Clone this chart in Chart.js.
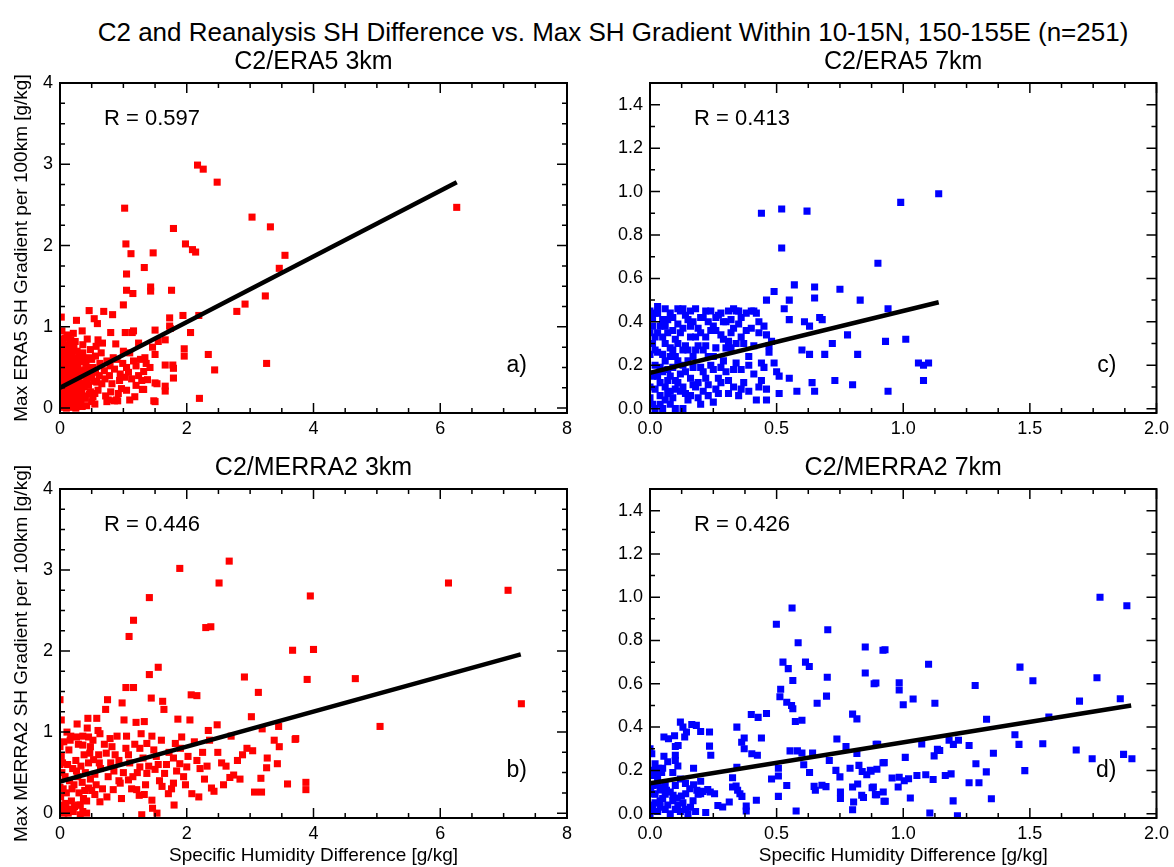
<!DOCTYPE html>
<html>
<head>
<meta charset="utf-8">
<script src="https://cdn.jsdelivr.net/npm/chart.js@4.4.1/dist/chart.umd.min.js"></script>
<style>
body { margin: 0; background: #fff; }
#wrap { position: relative; width: 1174px; height: 867px; overflow: hidden; font-family: "Liberation Sans", Arial, sans-serif; }
#title { position: absolute; left: 613px; top: 16px; transform: translateX(-50%); font-size: 26px; line-height: 32px; color: #000; white-space: nowrap; }
canvas { position: absolute; }
</style>
</head>
<body>
<div id="wrap">
  <div id="title">C2 and Reanalysis SH Difference vs. Max SH Gradient Within 10-15N, 150-155E (n=251)</div>
  <canvas id="chartA" width="590" height="410" style="left:0;top:40px"></canvas>
  <canvas id="chartC" width="584" height="410" style="left:590px;top:40px"></canvas>
  <canvas id="chartB" width="590" height="419" style="left:0;top:448px"></canvas>
  <canvas id="chartD" width="584" height="419" style="left:590px;top:448px"></canvas>
</div>
<script>
// tick labels
var ticksX8 = [0, 2, 4, 6, 8];
var ticksY4 = [0, 1, 2, 3, 4];
var ticksX2 = [0, 0.5, 1.0, 1.5, 2.0];
var ticksY14 = [0, 0.2, 0.4, 0.6, 0.8, 1.0, 1.2, 1.4];

// R values of the fits
var rValues = ['0.597', '0.446', '0.413', '0.426'];

// regression lines, [x, y] ends
var fitA = [[0, 0.25], [6.26, 2.78]];
var fitB = [[0, 0.39], [7.27, 1.96]];
var fitC = [[0, 0.165], [1.14, 0.49]];
var fitD = [[0, 0.14], [1.90, 0.50]];

// C2/ERA5 3km
var ptsA = [[2.17,2.99],[2.26,2.94],[2.48,2.78],[1.02,2.46],[1.79,2.21],[1.04,2.02],[1.12,1.90],[1.47,1.91],[1.98,2.02],[2.09,1.95],
[2.14,1.92],[1.05,1.65],[1.33,1.73],[1.05,1.45],[1.15,1.41],[1.43,1.49],[1.43,1.44],[1.76,1.45],[3.03,2.35],[3.32,2.23],
[3.55,1.88],[3.46,1.72],[3.24,1.38],[2.92,1.28],[2.79,1.19],[3.26,0.55],[2.34,0.66],[2.44,0.47],[2.20,0.12],[1.00,1.27],
[1.94,1.14],[2.19,1.14],[2.06,0.93],[1.96,0.73],[1.96,0.64],[1.73,1.11],[1.73,1.01],[1.50,0.96],[1.16,0.95],[1.03,0.93],
[0.83,1.15],[0.69,1.19],[0.46,1.20],[0.54,1.10],[0.59,1.04],[0.26,1.08],[0.02,1.12],[1.50,0.08],[0.74,0.08],[0.86,0.09],
[0.91,0.09],[1.30,0.23],[1.66,0.21],[1.79,0.37],[1.53,0.30],[1.66,0.53],[1.78,0.53],[1.46,0.75],[1.55,0.82],[6.26,2.47],
[0.35,0.95],[0.13,0.90],[0.80,0.93],[1.14,0.93],[1.74,0.98],[0.24,0.82],[0.60,0.84],[0.88,0.79],[1.24,0.80],[1.66,0.84],
[1.50,0.31],[1.66,0.27],[1.79,0.49],[1.32,0.23],[1.18,0.14],[1.48,0.09],[0.76,0.10],[0.89,0.10],[0.55,0.05],[0.42,0.03],
[1.32,0.45],[1.34,0.62],[1.50,0.66],[1.16,0.58],[1.05,0.50],[0.95,0.42],[0.79,0.52],[0.71,0.36],[0.58,0.32],[0.45,0.28],
[0.60,0.22],[0.97,0.24],[1.13,0.36],[1.29,0.34],[1.05,0.22],
[0.01,0.02],[0.03,0.05],[0.05,0.01],[0.08,0.03],[0.10,0.00],[0.12,0.04],[0.02,0.10],[0.06,0.12],[0.09,0.08],[0.14,0.10],
[0.17,0.06],[0.20,0.02],[0.23,0.08],[0.26,0.04],[0.30,0.10],[0.33,0.05],[0.01,0.18],[0.04,0.22],[0.07,0.17],[0.11,0.20],
[0.15,0.16],[0.19,0.21],[0.22,0.15],[0.27,0.18],[0.31,0.22],[0.36,0.15],[0.40,0.12],[0.02,0.28],[0.05,0.33],[0.09,0.30],
[0.13,0.26],[0.16,0.32],[0.20,0.29],[0.24,0.34],[0.28,0.27],[0.33,0.31],[0.38,0.26],[0.42,0.35],[0.48,0.20],[0.52,0.14],
[0.01,0.40],[0.04,0.45],[0.08,0.38],[0.12,0.43],[0.16,0.48],[0.21,0.40],[0.25,0.45],[0.29,0.38],[0.34,0.42],[0.39,0.47],
[0.44,0.41],[0.50,0.38],[0.03,0.53],[0.07,0.58],[0.11,0.51],[0.15,0.60],[0.19,0.55],[0.23,0.62],[0.28,0.52],[0.32,0.57],
[0.37,0.60],[0.02,0.65],[0.06,0.70],[0.10,0.66],[0.14,0.73],[0.18,0.68],[0.22,0.76],[0.27,0.70],[0.04,0.80],[0.08,0.86],
[0.12,0.78],[0.17,0.84],[0.21,0.92],[0.03,0.95],[0.30,0.64],[0.41,0.55],[0.46,0.62],[0.52,0.50],[0.56,0.44],[0.62,0.40],
[0.66,0.30],[0.70,0.46],[0.74,0.58],[0.78,0.40],[0.82,0.30],[0.86,0.48],[0.90,0.60],[0.94,0.34],[0.99,0.55],[1.02,0.38],
[1.08,0.44],[1.10,0.68],[1.20,0.52],[1.24,0.40],[1.27,0.60],[1.36,0.55],[1.38,0.35],[1.42,0.50],[0.65,0.68],[0.72,0.15],
[0.55,0.18],[0.63,0.55],[0.84,0.62],[0.92,0.18],[1.00,0.70],[0.48,0.72],[0.36,0.78],[0.43,0.85],[0.57,0.76],[0.67,0.80],
[0.25,0.00],[0.15,0.01],[0.35,0.02],[0.06,0.25],[0.00,0.35],[0.00,0.60],[0.00,0.85],[0.00,0.10],[1.20,0.28],[0.80,0.20],
[0.50,0.08],[1.10,0.10],
[0.02,0.03],[0.04,0.14],[0.06,0.07],[0.08,0.21],[0.10,0.16],[0.12,0.30],[0.14,0.37],[0.16,0.24],[0.18,0.12],[0.20,0.46],
[0.22,0.53],[0.24,0.21],[0.26,0.58],[0.28,0.09],[0.30,0.35],[0.32,0.46],[0.34,0.20],[0.36,0.68],[0.38,0.40],[0.40,0.30],
[0.44,0.50],[0.46,0.17],[0.50,0.60],[0.53,0.33],[0.56,0.64],[0.01,0.50],[0.03,0.72],[0.05,0.62],[0.07,0.48],[0.09,0.56],
[0.11,0.89],[0.13,0.65],[0.16,0.78],[0.19,0.72],[0.06,0.40],[0.14,0.50]];

// C2/MERRA2 3km
var ptsB = [[2.67,3.11],[1.89,3.02],[2.51,2.84],[1.41,2.66],[1.16,2.38],[1.09,2.18],[2.30,2.29],[2.38,2.30],[1.55,1.80],[1.41,1.71],
[1.04,1.55],[1.16,1.55],[1.44,1.42],[2.07,1.46],[2.16,1.45],[2.91,1.68],[3.13,1.49],[3.67,2.01],[3.02,1.19],[1.62,1.38],
[1.64,1.28],[0.75,1.40],[0.72,1.28],[0.98,1.36],[0.00,1.40],[0.02,1.15],[0.44,1.17],[0.58,1.17],[1.01,1.15],[1.20,1.12],
[1.33,1.13],[1.86,1.16],[2.05,1.15],[2.34,1.02],[2.48,1.09],[3.19,1.04],[3.45,1.07],[3.72,0.92],[3.38,0.90],[3.46,0.82],
[2.95,0.80],[3.04,0.77],[3.27,0.68],[3.43,0.61],[3.26,0.56],[3.17,0.43],[3.07,0.26],[3.18,0.26],[3.59,0.36],[2.68,0.44],
[2.74,0.47],[2.84,0.42],[2.49,0.75],[2.39,0.31],[2.43,0.27],[2.19,0.20],[2.08,0.24],
[6.13,2.84],[7.07,2.75],[3.95,2.68],[4.00,2.02],[3.90,1.65],[4.66,1.66],[7.28,1.35],[5.05,1.07],[3.71,0.91],[3.88,0.38],[3.88,0.29],
[0.00,0.82],[0.16,0.90],[0.26,0.94],[0.36,0.84],[0.45,0.94],[0.48,0.82],[0.63,0.98],[0.79,0.92],[0.82,0.82],[0.73,0.74],
[0.61,0.72],[0.53,0.66],[0.87,0.72],[1.04,0.80],[1.08,0.72],[1.26,0.80],[1.37,0.86],[1.48,0.78],[1.26,0.57],[1.37,0.49],
[1.50,0.54],[1.65,0.49],[1.79,0.68],[1.89,0.61],[2.00,0.57],[2.16,0.65],[2.21,0.55],[2.32,0.58],[1.82,0.86],[1.92,0.94],
[1.08,0.41],[1.21,0.29],[1.33,0.23],[1.45,0.16],[1.46,0.06],[1.53,0.00],[1.29,-0.02],[1.71,0.24],[1.79,0.37],[1.95,0.45],
[1.61,0.33],[0.95,0.37],[0.84,0.29],[0.74,0.20],[0.63,0.14],[0.55,0.23],[0.45,0.31],[0.37,0.18],[0.29,0.10],[0.21,0.02],
[0.13,0.00],[0.05,0.04],[0.32,-0.02],[0.42,0.00],
[0.03,0.50],[0.05,0.30],[0.08,0.45],[0.10,0.25],[0.12,0.60],[0.15,0.40],[0.18,0.15],[0.20,0.55],[0.22,0.35],[0.25,0.65],
[0.28,0.45],[0.30,0.25],[0.33,0.58],[0.35,0.38],[0.38,0.72],[0.40,0.50],[0.42,0.15],[0.45,0.62],[0.48,0.42],[0.50,0.28],
[0.02,0.70],[0.06,0.88],[0.09,0.12],[0.01,0.20],[0.04,0.62],[0.07,0.05],[0.14,0.78],[0.17,0.95],[0.19,0.30],[0.23,0.08],
[0.26,0.52],[0.29,0.85],[0.32,0.10],[0.36,0.95],[0.39,0.28],[0.43,1.05],[0.47,0.74],[0.52,0.90],[0.55,0.48],[0.57,0.35],
[0.60,1.02],[0.64,0.55],[0.67,0.30],[0.70,0.85],[0.76,0.45],[0.80,0.62],[0.85,0.52],[0.90,0.95],[0.93,0.65],[0.97,0.18],
[1.00,0.50],[1.05,0.95],[1.10,0.62],[1.13,0.30],[1.18,0.85],[1.22,0.50],[1.28,0.98],[1.31,0.68],[1.35,0.35],[1.40,0.58],
[1.45,0.95],[1.52,0.70],[1.57,0.40],[1.60,0.90],[1.68,0.60],[1.72,0.75],[1.76,0.30],[1.84,0.52],[1.90,0.80],[1.98,0.35],
[2.02,0.70],[2.12,0.88],[2.25,0.75],[2.28,0.42],[2.36,0.90],[2.55,0.62],[2.62,0.58],[2.58,0.35],[2.70,0.95],[2.80,0.65],
[2.88,0.72],[0.11,1.00],[0.27,1.10],[0.15,0.05],[0.00,0.32],[0.00,0.60],[0.00,0.10],[0.06,0.00],[0.36,0.02],[0.62,0.62],
[0.93,0.40],[1.15,0.45],[1.25,0.22],[1.55,0.60],[1.80,0.10]];

// C2/ERA5 7km
var ptsC = [[1.14,0.99],[0.99,0.95],[0.52,0.92],[0.44,0.90],[0.62,0.91],[0.52,0.74],[0.90,0.67],[0.57,0.57],[0.65,0.56],[0.75,0.55],
[0.49,0.54],[0.46,0.50],[0.55,0.50],[0.65,0.51],[0.83,0.50],[0.53,0.46],[0.94,0.46],[0.41,0.45],[0.55,0.41],[0.61,0.40],
[0.67,0.42],[0.68,0.41],[0.63,0.38],[0.78,0.34],[1.01,0.32],[0.93,0.31],[0.72,0.30],[0.60,0.27],[0.63,0.25],[0.69,0.25],
[0.82,0.25],[1.06,0.21],[1.08,0.20],[1.10,0.21],[1.08,0.13],[0.94,0.08],[0.73,0.13],[0.80,0.11],[0.64,0.12],[0.65,0.08],
[0.58,0.08],[0.51,0.07],[0.55,0.14],[0.51,0.15],[0.46,0.04],[0.46,0.09],[0.43,0.10],[0.44,0.13],[0.44,0.21],[0.45,0.19],
[0.49,0.21],[0.50,0.17],[0.47,0.29],[0.47,0.26],[0.46,0.34],[0.43,0.35],[0.39,0.24],[0.36,0.18],[0.36,0.09],[0.33,0.10],
[0.32,0.28],[0.33,0.37],[0.35,0.45],[0.36,0.33],[0.42,0.44],[0.45,0.38],[0.48,0.31],
[0.00,0.45],[0.01,0.30],[0.02,0.20],[0.00,0.10],[0.01,0.02],[0.03,0.44],[0.04,0.38],[0.05,0.25],[0.03,0.15],[0.04,0.06],
[0.06,0.46],[0.07,0.35],[0.08,0.28],[0.07,0.18],[0.06,0.10],[0.08,0.02],[0.09,0.42],[0.10,0.32],[0.11,0.22],[0.10,0.13],
[0.09,0.05],[0.12,0.45],[0.13,0.37],[0.13,0.27],[0.14,0.17],[0.12,0.08],[0.13,0.00],[0.15,0.41],[0.16,0.33],[0.17,0.24],
[0.16,0.14],[0.15,0.04],[0.18,0.46],[0.19,0.37],[0.19,0.29],[0.20,0.19],[0.18,0.10],[0.20,0.02],[0.21,0.42],[0.22,0.33],
[0.23,0.24],[0.22,0.14],[0.23,0.06],[0.24,0.45],[0.25,0.38],[0.26,0.28],[0.25,0.18],[0.26,0.09],[0.27,0.43],[0.28,0.34],
[0.29,0.22],[0.28,0.12],[0.30,0.40],[0.31,0.31],[0.30,0.17],[0.31,0.07],[0.02,0.33],[0.05,0.41],[0.03,0.26],[0.06,0.30],
[0.02,0.09],[0.05,0.00],[0.07,0.07],[0.09,0.19],[0.11,0.39],[0.14,0.29],[0.08,0.44],[0.10,0.24],[0.01,0.38],[0.04,0.12],
[0.06,0.22],[0.12,0.16],[0.15,0.22],[0.17,0.40],[0.19,0.12],[0.21,0.27],[0.23,0.40],[0.24,0.20],[0.26,0.36],[0.27,0.14],
[0.29,0.32],[0.32,0.41],[0.34,0.21],[0.35,0.39],[0.37,0.30],[0.38,0.44],[0.40,0.37],[0.41,0.16],[0.39,0.08],[0.00,0.05],
[0.01,0.15],[0.00,0.25],[0.00,0.35],[0.02,0.00],[0.03,0.47],[0.11,0.46],[0.14,0.43],[0.16,0.06],[0.18,0.27],[0.20,0.35],
[0.22,0.45],[0.07,0.13],[0.09,0.36],[0.10,0.00],[0.05,0.17],[0.08,0.24],[0.13,0.10],[0.17,0.19],[0.21,0.08],[0.25,0.03],
[0.28,0.44],[0.31,0.45],[0.33,0.46],[0.34,0.45],
[0.01,0.42],[0.02,0.27],[0.03,0.35],[0.04,0.02],[0.05,0.33],[0.06,0.04],[0.07,0.41],[0.08,0.15],[0.09,0.27],[0.10,0.09],
[0.11,0.30],[0.12,0.35],[0.13,0.20],[0.14,0.07],[0.15,0.27],[0.16,0.38],[0.17,0.11],[0.18,0.33],[0.19,0.05],[0.20,0.42],
[0.21,0.17],[0.22,0.29],[0.23,0.11],[0.24,0.36],[0.25,0.24],[0.26,0.42],[0.27,0.07],[0.28,0.19],[0.29,0.40],[0.30,0.28],
[0.31,0.13],[0.32,0.35],[0.33,0.18],[0.34,0.30],[0.35,0.06],[0.36,0.42],[0.37,0.12],[0.38,0.36],[0.39,0.20],[0.40,0.45],
[0.41,0.29],[0.42,0.04],[0.43,0.40],[0.02,0.44],[0.04,0.19],[0.06,0.38],[0.08,0.08],[0.11,0.12],[0.13,0.46],[0.16,0.45]];

// C2/MERRA2 7km
var ptsD = [[0.561,0.95],[0.499,0.875],[0.702,0.85],[0.585,0.79],[0.85,0.77],[0.92,0.755],[0.525,0.70],[0.546,0.67],[0.614,0.70],[0.629,0.68],
[0.85,0.65],[0.70,0.63],[0.564,0.615],[0.885,0.60],[0.516,0.575],[0.513,0.54],[0.54,0.515],[0.559,0.50],[0.564,0.485],[0.697,0.543],
[0.66,0.51],[0.46,0.463],[0.40,0.458],[0.427,0.445],[0.574,0.426],[0.60,0.432],[0.80,0.46],[0.817,0.438],[0.343,0.40],[0.372,0.35],
[0.362,0.33],[0.372,0.30],[0.44,0.35],[0.402,0.277],[0.424,0.27],[0.553,0.29],[0.582,0.29],[0.60,0.28],[0.642,0.28],[0.738,0.345],
[0.774,0.31],[0.817,0.278],[0.893,0.32],[0.708,0.246],[0.734,0.20],[0.75,0.17],[0.79,0.21],[0.825,0.223],[0.838,0.195],[0.856,0.18],
[0.87,0.20],[0.896,0.205],[0.92,0.235],[0.507,0.21],[0.48,0.16],[0.507,0.174],[0.54,0.13],[0.507,0.08],[0.577,0.012],[0.607,0.226],
[0.63,0.19],[0.648,0.126],[0.653,0.108],[0.679,0.131],[0.695,0.125],[0.752,0.10],[0.752,0.07],[0.804,0.054],[0.80,0.018],[0.80,0.123],
[0.82,0.137],[0.836,0.085],[0.843,0.075],[0.877,0.12],[0.89,0.088],[0.924,0.057],
[0.007,0.277],[0.013,0.20],[0.026,0.19],[0.033,0.21],[0.046,0.19],[0.013,0.177],[0.055,0.265],[0.055,0.354],[0.073,0.346],[0.097,0.36],
[0.10,0.31],[0.10,0.27],[0.10,0.246],[0.111,0.315],[0.12,0.423],[0.13,0.40],[0.137,0.354],[0.144,0.377],[0.165,0.412],[0.183,0.408],
[0.20,0.38],[0.235,0.377],[0.235,0.312],[0.24,0.27],[0.172,0.21],[0.343,0.214],[0.326,0.166],[0.34,0.128],[0.346,0.108],[0.355,0.092],
[0.363,0.08],[0.38,0.035],[0.38,0.012],[0.326,0.123],[0.42,0.062],[0.268,0.038],[0.287,0.031],[0.313,0.054],[0.255,0.092],[0.238,0.10],
[0.228,0.111],[0.209,0.103],[0.20,0.092],[0.185,0.108],[0.172,0.134],[0.157,0.115],[0.141,0.092],[0.124,0.082],[0.107,0.072],[0.091,0.085],
[0.065,0.108],[0.046,0.118],[0.033,0.131],[0.013,0.092],[0.003,0.103],[0.22,0.005],
[0.00,0.00],[0.01,0.02],[0.02,0.05],[0.03,0.01],[0.04,0.03],[0.05,0.07],[0.06,0.02],[0.07,0.04],[0.08,0.00],[0.09,0.06],
[0.10,0.02],[0.11,0.04],[0.12,0.01],[0.13,0.05],[0.14,0.02],[0.15,0.00],[0.16,0.03],[0.02,0.09],[0.04,0.11],[0.06,0.14],
[0.08,0.10],[0.10,0.13],[0.12,0.16],[0.00,0.04],[0.01,0.13],[0.03,0.16],[0.05,0.21],[0.07,0.24],[0.09,0.19],[0.11,0.22],
[0.14,0.14],[0.17,0.06],[0.18,0.01],[0.19,0.09],[0.20,0.15],[0.02,0.23],[0.00,0.30],[0.04,0.06],[0.06,0.09],
[1.777,1.00],[1.883,0.961],[0.928,0.757],[1.10,0.69],[1.461,0.677],[0.984,0.605],[0.984,0.571],[0.892,0.604],[1.512,0.614],[1.284,0.592],
[1.765,0.628],[1.039,0.53],[1.0,0.503],[1.125,0.51],[1.696,0.52],[1.857,0.531],[1.575,0.446],[1.329,0.436],[1.441,0.365],[1.457,0.32],
[1.551,0.323],[0.899,0.32],[1.073,0.322],[1.181,0.339],[1.198,0.32],[1.218,0.339],[1.26,0.315],[1.135,0.297],[1.144,0.292],[1.122,0.267],
[1.008,0.26],[1.356,0.279],[1.683,0.294],[1.746,0.254],[1.87,0.274],[1.903,0.254],[0.925,0.236],[1.287,0.231],[1.328,0.193],[1.48,0.199],
[0.873,0.196],[0.956,0.165],[0.984,0.168],[1.004,0.152],[1.021,0.161],[1.054,0.176],[1.089,0.18],[1.118,0.158],[1.166,0.176],[1.189,0.184],
[1.26,0.143],[1.299,0.143],[0.882,0.123],[0.98,0.123],[0.895,0.088],[0.921,0.10],[0.929,0.057],[1.028,0.072],[1.197,0.059],[1.348,0.069],
[1.105,0.003],[1.214,-0.01]];

Chart.defaults.font.family = '"Liberation Sans", Arial, sans-serif';
Chart.defaults.color = '#000';

function toXY(list) {
    return list.map(function(p) { return {x: p[0], y: p[1]}; });
}

function isMajor(v, majors) {
    for (var i = 0; i < majors.length; i++) {
        if (Math.abs(majors[i] - v) < 1e-6) { return true; }
    }
    return false;
}

// IDL style box: frame, inward ticks on all four sides, R text and panel tag
var boxTicks = {
    id: 'boxTicks',
    afterDraw: function(chart, args, opts) {
        var ctx = chart.ctx;
        var a = chart.chartArea;
        var sx = chart.scales.x, sy = chart.scales.y;
        var v, p, len;
        ctx.save();
        ctx.strokeStyle = '#000';
        ctx.lineWidth = 1.5;
        ctx.beginPath();
        for (v = 0; v <= sx.max + 1e-9; v += opts.minorX) {
            p = sx.getPixelForValue(v);
            len = isMajor(v, opts.majorX) ? 10 : 5;
            ctx.moveTo(p, a.bottom); ctx.lineTo(p, a.bottom - len);
            ctx.moveTo(p, a.top); ctx.lineTo(p, a.top + len);
        }
        for (v = 0; v <= sy.max + 1e-9; v += opts.minorY) {
            p = sy.getPixelForValue(v);
            len = isMajor(v, opts.majorY) ? 10 : 5;
            ctx.moveTo(a.left, p); ctx.lineTo(a.left + len, p);
            ctx.moveTo(a.right, p); ctx.lineTo(a.right - len, p);
        }
        ctx.stroke();
        ctx.lineWidth = 2;
        ctx.strokeRect(a.left, a.top, a.right - a.left, a.bottom - a.top);

        ctx.fillStyle = '#000';
        ctx.font = '22px "Liberation Sans", Arial, sans-serif';
        ctx.textBaseline = 'middle';
        ctx.textAlign = 'left';
        ctx.fillText('R = ' + opts.r, a.left + 44, a.top + 36);
        ctx.font = '23px "Liberation Sans", Arial, sans-serif';
        ctx.textAlign = 'right';
        ctx.fillText(opts.tag, a.right - 40, a.bottom - 47);
        ctx.restore();
    }
};

function makePanel(id, cfg) {
    return new Chart(document.getElementById(id).getContext('2d'), {
        type: 'scatter',
        data: {
            datasets: [{
                data: toXY(cfg.fit),
                showLine: true,
                borderColor: '#000',
                borderWidth: 4.5,
                pointRadius: 0,
                fill: false
            }, {
                data: toXY(cfg.pts),
                pointStyle: 'rect',
                pointRadius: 5,
                pointHoverRadius: 5,
                backgroundColor: cfg.color,
                borderWidth: 0
            }]
        },
        options: {
            responsive: false,
            animation: false,
            layout: { padding: { left: 0, top: 0, bottom: 0, right: cfg.padRight } },
            plugins: {
                legend: { display: false },
                tooltip: { enabled: false },
                title: {
                    display: true,
                    text: cfg.title,
                    fullSize: false,
                    color: '#000',
                    font: { size: 25, weight: 'normal' },
                    padding: { top: cfg.titleTop, bottom: cfg.titleBottom }
                },
                boxTicks: {
                    minorX: cfg.minorX, minorY: cfg.minorY,
                    majorX: cfg.ticksX, majorY: cfg.ticksY,
                    r: cfg.r, tag: cfg.tag
                }
            },
            scales: {
                x: {
                    type: 'linear',
                    min: cfg.xMin, max: cfg.xMax,
                    grid: { display: false, drawTicks: false },
                    border: { display: false },
                    ticks: {
                        padding: 5, autoSkip: false, maxRotation: 0,
                        font: { size: 18 },
                        callback: function(v) { return cfg.digits ? v.toFixed(cfg.digits) : String(v); }
                    },
                    afterBuildTicks: function(s) { s.ticks = cfg.ticksX.map(function(v) { return {value: v}; }); },
                    afterFit: function(s) { s.height = cfg.xHeight; },
                    title: {
                        display: !!cfg.xTitle,
                        text: cfg.xTitle || '',
                        font: { size: 19 },
                        padding: { top: 0, bottom: 0 }
                    }
                },
                y: {
                    type: 'linear',
                    min: cfg.yMin, max: cfg.yMax,
                    grid: { display: false, drawTicks: false },
                    border: { display: false },
                    ticks: {
                        padding: 7, autoSkip: false,
                        font: { size: 18 },
                        callback: function(v) { return cfg.digits ? v.toFixed(cfg.digits) : String(v); }
                    },
                    afterBuildTicks: function(s) { s.ticks = cfg.ticksY.map(function(v) { return {value: v}; }); },
                    afterFit: function(s) { s.width = 60; },
                    title: {
                        display: !!cfg.yTitle,
                        text: cfg.yTitle || '',
                        font: { size: 19 },
                        padding: { top: 10, bottom: 0 }
                    }
                }
            }
        },
        plugins: [boxTicks]
    });
}

// ----- top row
makePanel('chartA', {
    title: 'C2/ERA5 3km', pts: ptsA, fit: fitA, color: '#ff0000', r: rValues[0], tag: 'a)',
    xMin: 0, xMax: 8, yMin: -0.06, yMax: 4, ticksX: ticksX8, ticksY: ticksY4, minorX: 0.5, minorY: 0.25, digits: 0,
    yTitle: 'Max ERA5 SH Gradient per 100km [g/kg]', padRight: 23, xHeight: 37, titleTop: 7, titleBottom: 6
});
makePanel('chartC', {
    title: 'C2/ERA5 7km', pts: ptsC, fit: fitC, color: '#0000ff', r: rValues[2], tag: 'c)',
    xMin: 0, xMax: 2, yMin: -0.02, yMax: 1.5, ticksX: ticksX2, ticksY: ticksY14, minorX: 0.125, minorY: 0.1, digits: 1,
    padRight: 16, xHeight: 37, titleTop: 7, titleBottom: 6
});

// ----- bottom row
makePanel('chartB', {
    title: 'C2/MERRA2 3km', pts: ptsB, fit: fitB, color: '#ff0000', r: rValues[1], tag: 'b)',
    xMin: 0, xMax: 8, yMin: -0.06, yMax: 4, ticksX: ticksX8, ticksY: ticksY4, minorX: 0.5, minorY: 0.25, digits: 0,
    yTitle: 'Max MERRA2 SH Gradient per 100km [g/kg]', xTitle: 'Specific Humidity Difference [g/kg]',
    padRight: 23, xHeight: 49, titleTop: 5, titleBottom: 6
});
makePanel('chartD', {
    title: 'C2/MERRA2 7km', pts: ptsD, fit: fitD, color: '#0000ff', r: rValues[3], tag: 'd)',
    xMin: 0, xMax: 2, yMin: -0.02, yMax: 1.5, ticksX: ticksX2, ticksY: ticksY14, minorX: 0.125, minorY: 0.1, digits: 1,
    xTitle: 'Specific Humidity Difference [g/kg]',
    padRight: 16, xHeight: 49, titleTop: 5, titleBottom: 6
});
</script>
</body>
</html>
